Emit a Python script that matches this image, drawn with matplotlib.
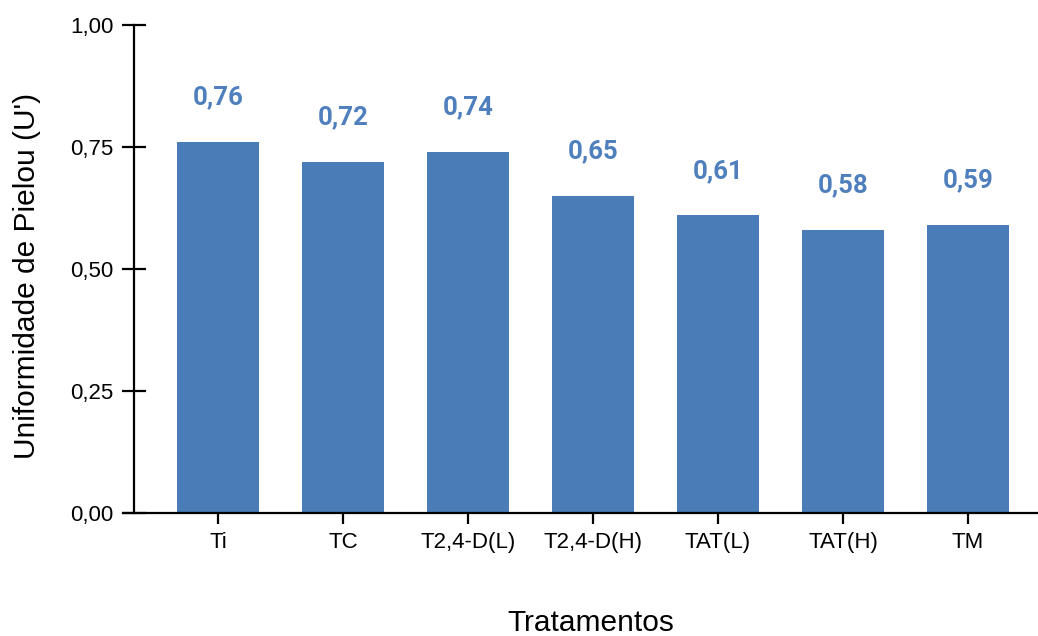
import matplotlib
matplotlib.use("Agg")
import matplotlib.pyplot as plt

# dados
tratamentos = ["Ti", "TC", "T2,4-D(L)", "T2,4-D(H)", "TAT(L)", "TAT(H)", "TM"]
uniformidade = [0.76, 0.72, 0.74, 0.65, 0.61, 0.58, 0.59]
yticks = [0.0, 0.25, 0.5, 0.75, 1.0]

cor_barra = "#4a7cb7"
cor_rotulo = "#4f80bd"

plt.rcParams["font.family"] = ["Liberation Sans", "DejaVu Sans"]

fig = plt.figure(figsize=(10.38, 6.36), dpi=100)
ax = fig.add_axes([123 / 1038, 123 / 636, 915 / 1038, 488 / 636])

x = list(range(len(tratamentos)))
ax.bar(x, uniformidade, width=0.66, color=cor_barra, zorder=2)

for xi, v in zip(x, uniformidade):
    ax.text(xi, v + 0.091, f"{v:.2f}".replace(".", ","), ha="center", va="center",
            fontsize=18.5, fontweight="bold", color=cor_rotulo, family="Roboto")

ax.set_xlim(-0.76, 6.56)
ax.set_ylim(0, 1)

for s in ["top", "right"]:
    ax.spines[s].set_visible(False)
ax.spines["left"].set_position(("data", -0.672))
ax.spines["left"].set_linewidth(1.6)
ax.spines["bottom"].set_linewidth(1.6)

ax.set_yticks(yticks)
ax.set_yticklabels([f"{t:.2f}".replace(".", ",") for t in yticks])
ax.set_xticks(x)
ax.set_xticklabels(tratamentos)
ax.tick_params(axis="y", direction="inout", length=17, width=1.6, labelsize=16, pad=6)
ax.tick_params(axis="x", direction="inout", length=16, width=1.6, labelsize=16, pad=6)

ax.set_ylabel("Uniformidade de Pielou (U')", fontsize=21.5)
ax.yaxis.set_label_coords(-0.105, 0.486)
ax.yaxis.label.set_va("center")
ax.set_xlabel("Tratamentos", fontsize=21.5)
ax.xaxis.set_label_coords(0.511, -0.225)
ax.xaxis.label.set_va("center")

fig.savefig("out.png", dpi=100)
